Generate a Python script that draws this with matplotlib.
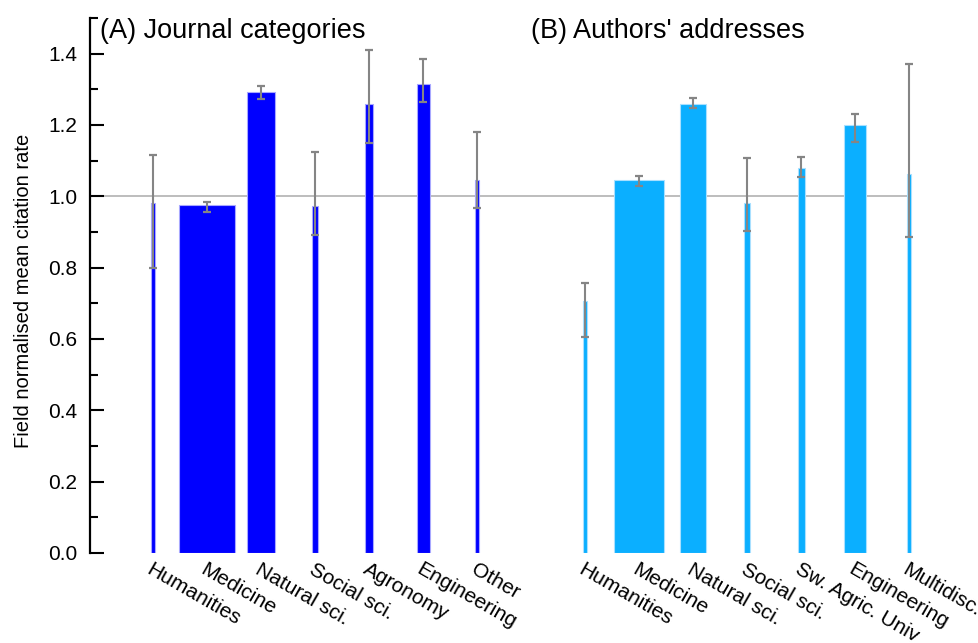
import numpy as np
import matplotlib
matplotlib.use('Agg')
from matplotlib import pyplot as plt
from matplotlib.ticker import MultipleLocator
import matplotlib.transforms as mtransforms

plt.rcParams['font.family'] = ['Liberation Sans', 'DejaVu Sans']

# (A) по категориям журналов
journal_cats = ['Humanities', 'Medicine', 'Natural sci.', 'Social sci.',
                'Agronomy', 'Engineering', 'Other']
journal_mean = [0.980, 0.977, 1.292, 0.974, 1.259, 1.315, 1.045]
journal_lo = [0.799, 0.956, 1.274, 0.892, 1.150, 1.264, 0.967]
journal_hi = [1.116, 0.985, 1.308, 1.125, 1.409, 1.384, 1.181]
journal_width = [0.074, 1.03, 0.53, 0.10, 0.14, 0.235, 0.074]   # ширина ~ объем группы

# (B) по адресам авторов
addr_cats = ['Humanities', 'Medicine', 'Natural sci.', 'Social sci.',
             'Sw. Agric. Univ', 'Engineering', 'Multidisc.']
addr_mean = [0.706, 1.047, 1.259, 0.982, 1.079, 1.199, 1.063]
addr_lo = [0.606, 1.030, 1.248, 0.904, 1.055, 1.153, 0.885]
addr_hi = [0.758, 1.056, 1.276, 1.107, 1.109, 1.230, 1.371]
addr_width = [0.074, 0.93, 0.48, 0.11, 0.124, 0.41, 0.074]

titles = ['(A) Journal categories', "(B) Authors' addresses"]
ylabel = 'Field normalised mean citation rate'

x_a = np.arange(len(journal_cats))
x_b = np.arange(len(addr_cats)) + len(journal_cats) + 1

fig = plt.figure(figsize=(9.79, 6.43), dpi=100)
ax = fig.add_axes([90/979, 90/643, 0.98 - 90/979, 535/643])

# линия уровня 1.0 (среднее по миру)
ax.plot([-1.17, x_b[-1]], [1.0, 1.0], color='#bdbdbd', lw=1.4, zorder=1)

def draw_group(x, mean, lo, hi, width, color, edge):
    ax.bar(x, mean, width=width, color=color, edgecolor=edge, linewidth=0.8, zorder=2)
    yerr = [np.array(mean) - np.array(lo), np.array(hi) - np.array(mean)]
    ax.errorbar(x, mean, yerr=yerr, fmt='none', ecolor='#858585', elinewidth=1.5,
                capsize=2.6, capthick=1.6, zorder=3)

draw_group(x_a, journal_mean, journal_lo, journal_hi, journal_width, '#0000ff', '#a8a8ff')
draw_group(x_b, addr_mean, addr_lo, addr_hi, addr_width, '#0bafff', '#a9e0ff')

ax.set_xlim(-1.17, 14.93)
ax.set_ylim(0, 1.5)

# оформление осей: только левая ось, риски внутрь
for s in ['top', 'right', 'bottom']:
    ax.spines[s].set_visible(False)
ax.spines['left'].set_linewidth(1.6)
ax.set_yticks(np.arange(0, 1.41, 0.2))
ax.set_yticklabels([f'{v:.1f}' for v in np.arange(0, 1.41, 0.2)])
ax.yaxis.set_minor_locator(MultipleLocator(0.1))
ax.tick_params(axis='y', which='major', direction='in', length=10, width=1.5,
               labelsize=15, pad=9)
ax.tick_params(axis='y', which='minor', direction='in', length=6, width=1.5)

ax.set_xticks(np.concatenate([x_a, x_b]))
ax.set_xticklabels(journal_cats + addr_cats, rotation=-30, ha='left', va='top',
                   rotation_mode='anchor', fontsize=15)
ax.tick_params(axis='x', length=0, pad=5)

ax.set_ylabel(ylabel, fontsize=14.5)
ax.yaxis.set_label_coords(-0.066, 0.49)

trans = mtransforms.blended_transform_factory(ax.transData, ax.transAxes)
ax.text(-0.99, 0.976, titles[0], transform=trans, fontsize=19.5, va='center', ha='left')
ax.text(7.0, 0.976, titles[1], transform=trans, fontsize=19.5, va='center', ha='left')

plt.savefig('out.png', dpi=100)
